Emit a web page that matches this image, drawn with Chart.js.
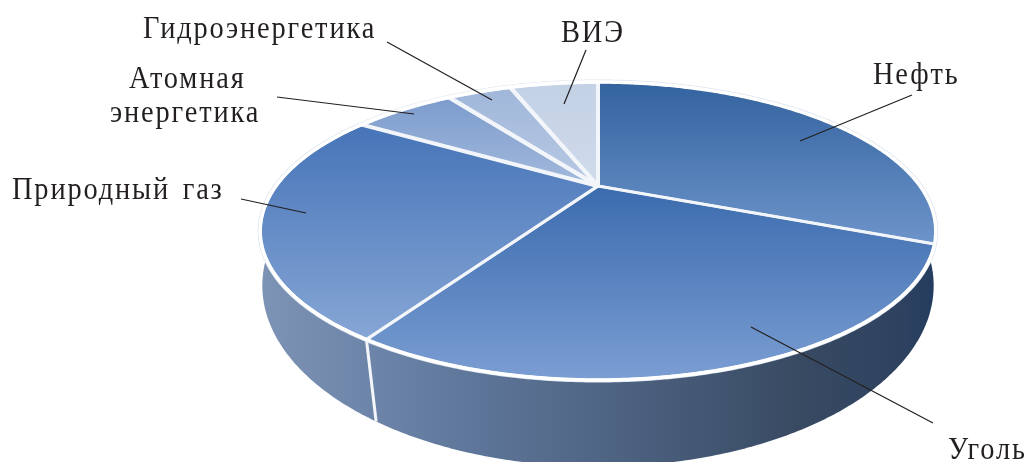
<!DOCTYPE html>
<html lang="ru">
<head>
<meta charset="utf-8">
<title>Энергетика</title>
<script src="https://cdn.jsdelivr.net/npm/chart.js@4"></script>
<style>
  html, body { margin: 0; padding: 0; background: #fff; overflow: hidden; }
  canvas { display: block; }
</style>
</head>
<body>
<canvas id="pieChart" width="1029" height="462"></canvas>
<script>
const categories = ["Нефть", "Уголь", "Природный газ", "Атомная энергетика", "Гидроэнергетика", "ВИЭ"];
const shares = [31.2, 27.8, 24.8, 6.4, 4.1, 5.7];

const sliceTopColors = ["#33639f", "#3b6bae", "#4674b8", "#7c9ccd", "#a0b7da", "#c3d1e5"];
const sliceBottomColors = ["#6d94ca", "#7b9ed3", "#86a6d5", "#a3b9dc", "#b8c9e3", "#d0dbeb"];
const sliceGaps = [2.5, 3, 3, 4, 4, 4];

// perspective of the disc: top face and the bottom edge of the side wall
const topFace = { x: 598, y: 186, a: 322, b: 135.4, k: 0.302 };
const bottomFace = { x: 598, y: 231, a: 320, b: 164.5, k: 0.302 };
const seamSkew = 0.026;

const labelLines = [
  { text: "Нефть", x: 873, y: 84 },
  { text: "Уголь", x: 948, y: 459 },
  { text: "Природный газ", x: 12, y: 199 },
  { text: "Атомная", x: 129, y: 88 },
  { text: "энергетика", x: 110, y: 122 },
  { text: "Гидроэнергетика", x: 143, y: 38 },
  { text: "ВИЭ", x: 561, y: 42 },
];
const leaders = [
  [912, 95, 800, 141],
  [751, 327, 933, 423],
  [241, 199, 306, 213],
  [277, 97, 414, 114],
  [387, 42, 492, 100],
  [586, 50, 564, 104],
];

function project(face, angle) {
  const u = Math.cos(angle);
  const v = Math.sin(angle);
  const w = 1 - face.k * v;
  return { x: face.x + (face.a * u) / w, y: face.y + (face.b * v) / w };
}

function tracePath(ctx, face, start, end, withHub) {
  const steps = Math.max(2, Math.ceil((end - start) / 0.01));
  ctx.beginPath();
  if (withHub) ctx.moveTo(face.x, face.y);
  for (let i = 0; i <= steps; i++) {
    const p = project(face, start + ((end - start) * i) / steps);
    ctx.lineTo(p.x, p.y);
  }
  if (withHub) ctx.closePath();
}

const perspectivePie = {
  id: "perspectivePie",
  beforeDatasetDraw(chart, args) {
    const ctx = chart.ctx;
    const arcs = args.meta.data;
    const first = arcs[0].startAngle;
    const last = arcs[arcs.length - 1].endAngle;
    ctx.save();
    ctx.lineJoin = "round";

    // side wall
    const wall = ctx.createLinearGradient(262, 0, 936, 0);
    wall.addColorStop(0, "#7d93b5");
    wall.addColorStop(0.17, "#6c84a8");
    wall.addColorStop(0.3, "#5f779b");
    wall.addColorStop(0.56, "#4b607e");
    wall.addColorStop(0.8, "#384a62");
    wall.addColorStop(0.95, "#2e4260");
    wall.addColorStop(1, "#233c5f");
    tracePath(ctx, bottomFace, first, last, false);
    ctx.closePath();
    ctx.fillStyle = wall;
    ctx.fill();

    // seam on the wall where a slice boundary comes to the front
    ctx.strokeStyle = "#f4f6f9";
    ctx.lineWidth = 3;
    arcs.forEach((arc) => {
      if (Math.sin(arc.endAngle) < 0.5) return;
      const a = project(topFace, arc.endAngle);
      const b = project(bottomFace, arc.endAngle - seamSkew);
      ctx.beginPath();
      ctx.moveTo(a.x, a.y);
      ctx.lineTo(b.x, b.y);
      ctx.stroke();
    });

    // rim
    tracePath(ctx, topFace, first, last, false);
    ctx.closePath();
    ctx.strokeStyle = "#dde5ef";
    ctx.lineWidth = 5;
    ctx.stroke();

    // top face
    arcs.forEach((arc, i) => {
      const steps = 40;
      let minY = topFace.y;
      let maxY = topFace.y;
      for (let s = 0; s <= steps; s++) {
        const p = project(topFace, arc.startAngle + ((arc.endAngle - arc.startAngle) * s) / steps);
        minY = Math.min(minY, p.y);
        maxY = Math.max(maxY, p.y);
      }
      const fill = ctx.createLinearGradient(0, minY, 0, maxY);
      fill.addColorStop(0, sliceTopColors[i]);
      fill.addColorStop(1, sliceBottomColors[i]);
      tracePath(ctx, topFace, arc.startAngle, arc.endAngle, true);
      ctx.fillStyle = fill;
      ctx.fill();
    });
    arcs.forEach((arc) => {
      tracePath(ctx, topFace, arc.startAngle, arc.endAngle, true);
      ctx.strokeStyle = "#f2f5f9";
      ctx.lineWidth = arc.options.borderWidth;
      ctx.stroke();
    });
    tracePath(ctx, topFace, first, last, false);
    ctx.closePath();
    ctx.strokeStyle = "#ffffff";
    ctx.lineWidth = 3.5;
    ctx.stroke();

    ctx.restore();
    return false;
  },
  afterDatasetsDraw(chart) {
    const ctx = chart.ctx;
    ctx.save();
    ctx.strokeStyle = "#231f20";
    ctx.lineWidth = 1.2;
    leaders.forEach(([x1, y1, x2, y2]) => {
      ctx.beginPath();
      ctx.moveTo(x1, y1);
      ctx.lineTo(x2, y2);
      ctx.stroke();
    });
    ctx.fillStyle = "#231f20";
    ctx.font = '31px "Liberation Serif"';
    ctx.letterSpacing = "2px";
    ctx.wordSpacing = "4px";
    ctx.textBaseline = "alphabetic";
    // the labels in the picture are set narrow
    labelLines.forEach((l) => {
      ctx.save();
      ctx.translate(l.x, l.y);
      ctx.scale(0.917, 1);
      ctx.fillText(l.text, 0, 0);
      ctx.restore();
    });
    ctx.restore();
  },
};

new Chart(document.getElementById("pieChart"), {
  type: "pie",
  data: {
    labels: categories,
    datasets: [
      {
        data: shares,
        backgroundColor: sliceBottomColors,
        borderWidth: sliceGaps,
      },
    ],
  },
  options: {
    responsive: false,
    animation: false,
    plugins: {
      legend: { display: false },
      tooltip: { enabled: false },
    },
  },
  plugins: [perspectivePie],
});
</script>
</body>
</html>
